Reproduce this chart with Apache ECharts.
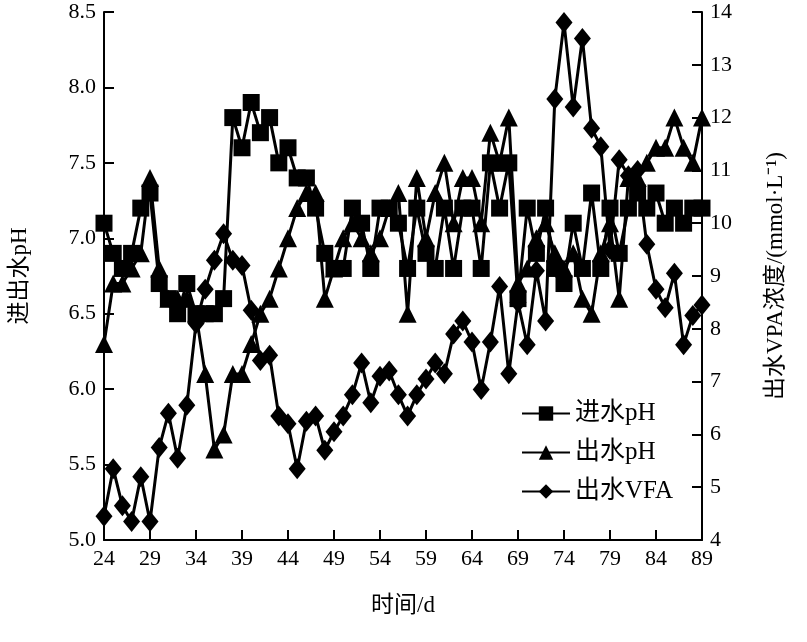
<!DOCTYPE html>
<html><head><meta charset="utf-8">
<script src="https://cdn.jsdelivr.net/npm/echarts@6/dist/echarts.min.js"></script>
<style>html,body{margin:0;padding:0;background:#fff}#c{width:807px;height:642px}</style>
</head><body><div id="c"></div>
<script>
const days = ['24','25','26','27','28','29','30','31','32','33','34','35','36','37','38','39','40','41','42','43',
  '44','45','46','47','48','49','50','51','52','53','54','55','56','57','58','59','60','61','62','63',
  '64','65','66','67','68','69','70','71','72','73','74','75','76','77','78','79','80','81','82','83',
  '84','85','86','87','88','89'];
const inPH = [7.1,6.9,6.8,6.9,7.2,7.3,6.7,6.6,6.5,6.7,
  6.5,6.5,6.5,6.6,7.8,7.6,7.9,7.7,7.8,7.5,
  7.6,7.4,7.4,7.2,6.9,6.8,6.8,7.2,7.1,6.8,
  7.2,7.2,7.1,6.8,7.2,6.9,6.8,7.2,6.8,7.2,
  7.2,6.8,7.5,7.2,7.5,6.6,7.2,6.9,7.2,6.8,
  6.7,7.1,6.8,7.3,6.8,7.2,6.9,7.2,7.3,7.2,
  7.3,7.1,7.2,7.1,7.2,7.2];
const outPH = [6.3,6.7,6.7,6.8,6.9,7.4,6.8,6.6,6.6,6.6,
  6.5,6.1,5.6,5.7,6.1,6.1,6.3,6.5,6.6,6.8,
  7.0,7.2,7.3,7.3,6.6,6.8,7.0,7.1,7.0,6.9,
  7.0,7.2,7.3,6.5,7.4,7.0,7.3,7.5,7.1,7.4,
  7.4,7.1,7.7,7.5,7.8,6.7,6.8,7.0,7.1,6.9,
  6.8,6.9,6.6,6.5,6.9,7.1,6.6,7.4,7.4,7.5,
  7.6,7.6,7.8,7.6,7.5,7.8];
const outVFA = [4.45,5.35,4.65,4.35,5.2,4.35,5.75,6.4,5.55,6.55,
  8.1,8.75,9.3,9.8,9.3,9.2,8.35,7.4,7.5,6.35,
  6.2,5.35,6.25,6.35,5.7,6.05,6.35,6.75,7.35,6.6,
  7.1,7.2,6.75,6.35,6.75,7.05,7.35,7.15,7.9,8.15,
  7.75,6.85,7.75,8.8,7.15,8.5,7.7,9.1,8.15,12.35,
  13.8,12.2,13.5,11.8,11.45,9.5,11.2,10.9,11.0,9.6,
  8.75,8.4,9.05,7.7,8.25,8.45];
const seriesNames = ['进水pH','出水pH','出水VFA'];

const FONT = '"Liberation Serif","Noto Sans CJK SC",serif';
const chart = echarts.init(document.getElementById('c'), null, {renderer:'canvas'});
const axisLine = {show:true, lineStyle:{color:'#000', width:2}};
const lineStyle = {color:'#000', width:3};
const common = {type:'line', showSymbol:true, showAllSymbol:true, lineStyle:lineStyle,
  itemStyle:{color:'#000', borderColor:'#000', borderWidth:0}, emphasis:{disabled:true}};
chart.setOption({
  animation:false,
  backgroundColor:'#fff',
  grid:{left:103, right:105, top:12, bottom:102},
  legend:{
    orient:'vertical', left:516, top:396, itemGap:14,
    itemWidth:48, itemHeight:18,
    textStyle:{fontFamily:FONT, fontSize:25, color:'#000'},
    data:seriesNames
  },
  xAxis:{
    type:'category', data:days, boundaryGap:false,
    name:'时间/d', nameLocation:'middle', nameGap:54,
    nameTextStyle:{fontFamily:FONT, fontSize:23, color:'#000'},
    axisLine:axisLine,
    axisTick:{show:true, inside:true, interval:4, length:10, lineStyle:{color:'#000', width:2}},
    axisLabel:{interval:4, margin:8, fontFamily:FONT, fontSize:22, color:'#000'},
    splitLine:{show:false}
  },
  yAxis:[{
    type:'value', min:5, max:8.5, interval:0.5, position:'left',
    name:'进出水pH', nameLocation:'middle', nameGap:73, nameRotate:90,
    nameTextStyle:{fontFamily:FONT, fontSize:23, color:'#000'},
    axisLine:axisLine,
    axisTick:{show:true, inside:true, length:10, lineStyle:{color:'#000', width:2}},
    axisLabel:{margin:8, fontFamily:FONT, fontSize:22, color:'#000', formatter:v=>v.toFixed(1)},
    splitLine:{show:false}
  },{
    type:'value', min:4, max:14, interval:1, position:'right',
    name:'出水VPA浓度/(mmol·L⁻¹)', nameLocation:'middle', nameGap:62, nameRotate:90,
    nameTextStyle:{fontFamily:FONT, fontSize:23, color:'#000'},
    axisLine:axisLine,
    axisTick:{show:true, inside:true, length:10, lineStyle:{color:'#000', width:2}},
    axisLabel:{margin:8, fontFamily:FONT, fontSize:22, color:'#000'},
    splitLine:{show:false}
  }],
  series:[
    Object.assign({name:seriesNames[2], yAxisIndex:1, data:outVFA, symbol:'diamond', symbolSize:[17,21], z:2}, common),
    Object.assign({name:seriesNames[1], yAxisIndex:0, data:outPH, symbol:'triangle', symbolSize:18, z:3}, common),
    Object.assign({name:seriesNames[0], yAxisIndex:0, data:inPH, symbol:'rect', symbolSize:17, z:4}, common)
  ]
});
</script></body></html>
